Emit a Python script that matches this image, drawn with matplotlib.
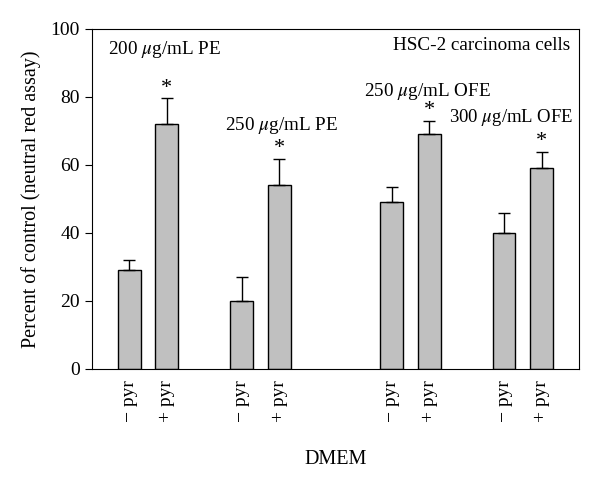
import matplotlib.pyplot as plt

plt.rcParams['font.family'] = ['Liberation Serif', 'DejaVu Serif']
plt.rcParams['mathtext.fontset'] = 'stix'

# bar data (percent of control)
positions = [0, 1, 3, 4, 7, 8, 10, 11]
values = [29, 72, 20, 54, 49, 69, 40, 59]
errors = [3.2, 7.6, 7.0, 7.8, 4.6, 4.0, 5.8, 4.9]
tick_labels = ['− pyr', '+ pyr'] * 4
significant = [False, True, False, True, False, True, False, True]

fig = plt.figure(figsize=(6, 4.87), dpi=100)
ax = fig.add_axes([0.153, 0.2423, 0.812, 0.6982])

ax.bar(positions, values, width=0.61, color='#c0c0c0', edgecolor='black', linewidth=1.0)
ax.errorbar(positions, values, yerr=[[0] * len(errors), errors], fmt='none',
            ecolor='black', elinewidth=1.0, capsize=4, capthick=1.0)

for x, v, e, s in zip(positions, values, errors, significant):
    if s:
        ax.text(x, v + e + 1.6, '*', ha='center', va='baseline', fontsize=16)

ax.set_xlim(-1, 12)
ax.set_ylim(0, 100)
ax.set_yticks([0, 20, 40, 60, 80, 100])
ax.set_xticks(positions)
ax.set_xticklabels(tick_labels, rotation=90, fontsize=14)
ax.tick_params(axis='x', length=0, pad=8)
ax.tick_params(axis='y', direction='out', length=5, labelsize=14)

ax.set_ylabel('Percent of control (neutral red assay)', fontsize=14.5, labelpad=7)
ax.set_xlabel('DMEM', fontsize=14.5, labelpad=20)

ax.text(-0.57, 94, r'200 $\mu$g/mL PE', fontsize=13.8, va='center')
ax.text(2.55, 71.5, r'250 $\mu$g/mL PE', fontsize=13.8, va='center')
ax.text(6.25, 81.5, r'250 $\mu$g/mL OFE', fontsize=13.8, va='center')
ax.text(8.52, 74, r'300 $\mu$g/mL OFE', fontsize=13.5, va='center')
ax.text(11.76, 95, 'HSC-2 carcinoma cells', fontsize=13.8, va='center', ha='right')

fig.savefig('out.png', dpi=100)
